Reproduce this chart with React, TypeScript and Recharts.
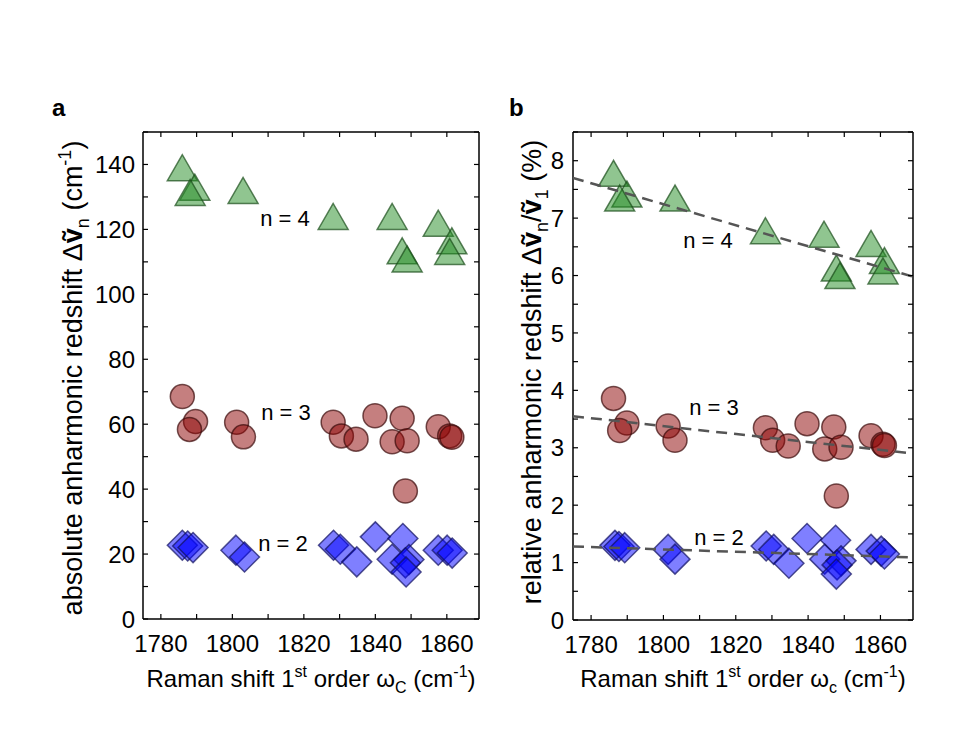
import { ScatterChart, Scatter, XAxis, YAxis } from 'recharts';

const FONT = '"Liberation Sans", Arial, Helvetica, sans-serif';

// x = Raman shift 1st order (cm-1), y = redshift
// panel a: absolute anharmonic redshift (cm-1)
const absN4: [number, number][] = [
  [1786, 139], [1789.5, 133], [1788.2, 131.4], [1803, 132], [1828.2, 124], [1844.7, 124],
  [1857.6, 121.9], [1847.5, 113.4], [1848.9, 110.9], [1861.4, 116.5], [1860.8, 113.2],
];
const absN3: [number, number][] = [
  [1786, 68.5], [1789.7, 60.8], [1788, 58.4], [1801.2, 60.6], [1803.1, 56.1], [1828.2, 60.6],
  [1830.5, 56.4], [1834.6, 55.4], [1839.9, 62.6], [1847.5, 61.8], [1844.7, 54.6], [1848.9, 54.9],
  [1848.4, 39.4], [1857.6, 59.2], [1860.8, 56.4], [1861.4, 56.0],
];
const absN2: [number, number][] = [
  [1786, 22.7], [1787.5, 22.5], [1789, 22.0], [1801, 21.2], [1803.4, 19.1], [1828.3, 22.7],
  [1830.2, 21.5], [1834.8, 17.6], [1840, 25.3], [1847.7, 24.8], [1844.7, 18.4], [1849.4, 18.3],
  [1848.4, 17.3], [1848.6, 14.5], [1857.6, 21.2], [1860.1, 21.2], [1861.5, 20.3],
];

// panel b: relative anharmonic redshift (%)
const relN4: [number, number][] = [
  [1786.2, 7.78], [1789.9, 7.42], [1787.9, 7.35], [1803.2, 7.35], [1828.2, 6.78], [1844.4, 6.72],
  [1857.4, 6.56], [1847.8, 6.13], [1848.8, 6.0], [1861.1, 6.26], [1860.7, 6.08],
];
const relN3: [number, number][] = [
  [1786.2, 3.86], [1789.9, 3.43], [1787.9, 3.3], [1801.3, 3.38], [1803.2, 3.13], [1828.2, 3.35],
  [1830.2, 3.13], [1834.5, 3.03], [1839.7, 3.42], [1847.1, 3.36], [1844.6, 2.98], [1849.1, 3.01],
  [1847.8, 2.16], [1857.4, 3.21], [1860.7, 3.06], [1861.1, 3.04],
];
const relN2: [number, number][] = [
  [1786.6, 1.3], [1787.7, 1.28], [1789.3, 1.26], [1801.3, 1.23], [1803.2, 1.06], [1828.4, 1.29],
  [1830.5, 1.23], [1834.7, 0.99], [1839.7, 1.42], [1847.6, 1.39], [1844.6, 1.06], [1849.1, 1.03],
  [1848, 0.96], [1847.8, 0.8], [1857.4, 1.23], [1860.2, 1.2], [1861.1, 1.15],
];

// linear fits in panel b (end points at the axis limits)
const relFit4: [number, number][] = [[1775, 7.7], [1869, 5.98]];
const relFit3: [number, number][] = [[1775, 3.55], [1869, 2.9]];
const relFit2: [number, number][] = [[1775, 1.28], [1869, 1.09]];

const xDomain = [1775, 1869];
const xTicks = [1780, 1790, 1800, 1810, 1820, 1830, 1840, 1850, 1860];
const absTicks = [0, 10, 20, 30, 40, 50, 60, 70, 80, 90, 100, 110, 120, 130, 140, 150];
const relTicks = [0, 0.5, 1, 1.5, 2, 2.5, 3, 3.5, 4, 4.5, 5, 5.5, 6, 6.5, 7, 7.5, 8, 8.5];

const toPts = (arr: [number, number][]) => arr.map(([x, y]) => ({ x, y }));

const TICK_LEN = 5;
const TICK_FONT = 24;

const isMultiple = (v: number, step: number) => Math.abs(v / step - Math.round(v / step)) < 1e-6;

function leftTick(step: number, margin: number) {
  return (p: any) => {
    const v = p.payload.value;
    const ax = p.x + margin;
    return (
      <g>
        <line x1={ax} x2={ax + TICK_LEN} y1={p.y} y2={p.y} stroke="#000" strokeWidth={1.2} />
        {isMultiple(v, step) && (
          <text x={p.x} y={p.y} dy="0.36em" textAnchor="end" fontSize={TICK_FONT} fontFamily={FONT} fill="#000">
            {v}
          </text>
        )}
      </g>
    );
  };
}

function bottomTick(margin: number) {
  return (p: any) => {
    const v = p.payload.value;
    const ay = p.y - margin;
    return (
      <g>
        <line x1={p.x} x2={p.x} y1={ay} y2={ay - TICK_LEN} stroke="#000" strokeWidth={1.2} />
        {isMultiple(v - 1780, 20) && (
          <text x={p.x} y={p.y} dy="0.72em" textAnchor="middle" fontSize={TICK_FONT} fontFamily={FONT} fill="#000">
            {v}
          </text>
        )}
      </g>
    );
  };
}

const rightTick = (p: any) => (
  <line x1={p.x} x2={p.x - TICK_LEN} y1={p.y} y2={p.y} stroke="#000" strokeWidth={1.2} />
);
const topTick = (p: any) => (
  <line x1={p.x} x2={p.x} y1={p.y} y2={p.y + TICK_LEN} stroke="#000" strokeWidth={1.2} />
);

const Triangle = (p: any) => (
  <polygon
    points={`${p.cx},${p.cy - 13} ${p.cx - 15},${p.cy + 13} ${p.cx + 15},${p.cy + 13}`}
    fill="#228b22"
    fillOpacity={0.5}
    stroke="#1a4d1a"
    strokeOpacity={0.7}
    strokeWidth={1.5}
  />
);
const Circle = (p: any) => (
  <circle cx={p.cx} cy={p.cy} r={12} fill="#8b0000" fillOpacity={0.5} stroke="#3a0a0a" strokeOpacity={0.7} strokeWidth={1.5} />
);
const Diamond = (p: any) => (
  <polygon
    points={`${p.cx},${p.cy - 15} ${p.cx + 15},${p.cy} ${p.cx},${p.cy + 15} ${p.cx - 15},${p.cy}`}
    fill="#0000ff"
    fillOpacity={0.5}
    stroke="#101060"
    strokeOpacity={0.7}
    strokeWidth={1.5}
  />
);
const NoDot = () => <g />;

const axisLine = { stroke: '#000', strokeWidth: 1.5 };

function Panel(props: {
  width: number;
  margin: { top: number; right: number; bottom: number; left: number };
  yDomain: number[];
  yTicks: number[];
  yStep: number;
  yMargin: number;
  n4: [number, number][];
  n3: [number, number][];
  n2: [number, number][];
  fits?: [number, number][][];
}) {
  const { width, margin, yDomain, yTicks, yStep, yMargin, n4, n3, n2, fits } = props;
  return (
    <ScatterChart width={width} height={749} margin={margin}>
      <XAxis
        dataKey="x"
        type="number"
        domain={xDomain}
        ticks={xTicks}
        interval={0}
        allowDataOverflow
        height={40}
        tickSize={0}
        tickMargin={16}
        tickLine={false}
        axisLine={axisLine}
        tick={bottomTick(16)}
      />
      <XAxis
        xAxisId="top"
        orientation="top"
        dataKey="x"
        type="number"
        domain={xDomain}
        ticks={xTicks}
        interval={0}
        allowDataOverflow
        height={1}
        tickSize={0}
        tickMargin={0}
        tickLine={false}
        axisLine={axisLine}
        tick={topTick}
      />
      <YAxis
        dataKey="y"
        type="number"
        domain={yDomain}
        ticks={yTicks}
        interval={0}
        allowDataOverflow
        width={60}
        tickSize={0}
        tickMargin={yMargin}
        tickLine={false}
        axisLine={axisLine}
        tick={leftTick(yStep, yMargin)}
      />
      <YAxis
        yAxisId="right"
        orientation="right"
        dataKey="y"
        type="number"
        domain={yDomain}
        ticks={yTicks}
        interval={0}
        allowDataOverflow
        width={1}
        tickSize={0}
        tickMargin={0}
        tickLine={false}
        axisLine={axisLine}
        tick={rightTick}
      />
      <Scatter data={toPts(n3)} shape={Circle} isAnimationActive={false} />
      <Scatter data={toPts(n2)} shape={Diamond} isAnimationActive={false} />
      <Scatter data={toPts(n4)} shape={Triangle} isAnimationActive={false} />
      {(fits ?? []).map((f, i) => (
        <Scatter
          key={i}
          data={toPts(f)}
          shape={NoDot}
          line={{ stroke: '#555', strokeWidth: 2.5, strokeDasharray: '11 7' }}
          isAnimationActive={false}
        />
      ))}
    </ScatterChart>
  );
}

export default function App() {
  const txt = { fontFamily: FONT, fill: '#000' };
  return (
    <div style={{ position: 'absolute', left: 0, top: 0, width: 970, height: 749, background: '#fff' }}>
      <div style={{ position: 'absolute', left: 0, top: 0 }}>
        <Panel
          width={490}
          margin={{ top: 131, right: 10, bottom: 90, left: 83 }}
          yDomain={[0, 150]}
          yTicks={absTicks}
          yStep={20}
          yMargin={8}
          n4={absN4}
          n3={absN3}
          n2={absN2}
        />
      </div>
      <div style={{ position: 'absolute', left: 490, top: 0 }}>
        <Panel
          width={480}
          margin={{ top: 131, right: 56, bottom: 89, left: 23 }}
          yDomain={[0, 8.5]}
          yTicks={relTicks}
          yStep={1}
          yMargin={9}
          n4={relN4}
          n3={relN3}
          n2={relN2}
          fits={[relFit4, relFit3, relFit2]}
        />
      </div>
      <svg width={970} height={749} style={{ position: 'absolute', left: 0, top: 0, pointerEvents: 'none' }}>
        <text x={52} y={116} fontSize={24} fontWeight="bold" {...txt}>a</text>
        <text x={509} y={116} fontSize={24} fontWeight="bold" {...txt}>b</text>

        <text x={82} y={378} fontSize={27} textAnchor="middle" transform="rotate(-90 82 378)" {...txt}>
          absolute anharmonic redshift Δ<tspan fontWeight="bold">ṽ</tspan>
          <tspan dy={7} fontSize={18}>n</tspan>
          <tspan dy={-7}> (cm</tspan>
          <tspan dy={-11} fontSize={18}>-1</tspan>
          <tspan dy={11}>)</tspan>
        </text>
        <text x={541} y={372} fontSize={27} textAnchor="middle" transform="rotate(-90 541 372)" {...txt}>
          relative anharmonic redshift  Δ<tspan fontWeight="bold">ṽ</tspan>
          <tspan dy={7} fontSize={18}>n</tspan>
          <tspan dy={-7}>/</tspan>
          <tspan fontWeight="bold">ṽ</tspan>
          <tspan dy={7} fontSize={18}>1</tspan>
          <tspan dy={-7}> (%)</tspan>
        </text>

        <text x={311} y={687} fontSize={24} textAnchor="middle" {...txt}>
          Raman shift 1<tspan dy={-10} fontSize={16}>st</tspan>
          <tspan dy={10}> order ω</tspan>
          <tspan dy={6} fontSize={16}>C</tspan>
          <tspan dy={-6}> (cm</tspan>
          <tspan dy={-10} fontSize={16}>-1</tspan>
          <tspan dy={10}>)</tspan>
        </text>
        <text x={743} y={687} fontSize={24} textAnchor="middle" {...txt}>
          Raman shift 1<tspan dy={-10} fontSize={16}>st</tspan>
          <tspan dy={10}> order ω</tspan>
          <tspan dy={6} fontSize={16}>c</tspan>
          <tspan dy={-6}> (cm</tspan>
          <tspan dy={-10} fontSize={16}>-1</tspan>
          <tspan dy={10}>)</tspan>
        </text>

        <text x={285} y={226} fontSize={22} textAnchor="middle" {...txt}>n = 4</text>
        <text x={286} y={420} fontSize={22} textAnchor="middle" {...txt}>n = 3</text>
        <text x={283} y={551} fontSize={22} textAnchor="middle" {...txt}>n = 2</text>
        <text x={708} y={248} fontSize={22} textAnchor="middle" {...txt}>n = 4</text>
        <text x={714} y={415} fontSize={22} textAnchor="middle" {...txt}>n = 3</text>
        <text x={719} y={545} fontSize={22} textAnchor="middle" {...txt}>n = 2</text>
      </svg>
    </div>
  );
}
